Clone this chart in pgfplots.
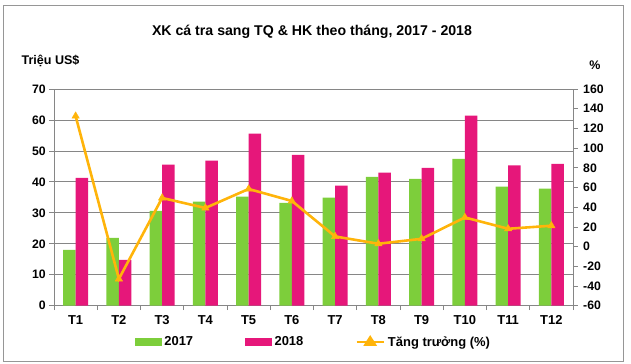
\documentclass[border=0pt]{standalone}
\usepackage{pgfplots}
\pgfplotsset{compat=1.18}
\usepackage{fontspec}
\setmainfont{Liberation Sans}
\definecolor{cgreen}{RGB}{125,206,59}
\definecolor{cpink}{RGB}{230,23,122}
\definecolor{corange}{RGB}{255,180,10}
\definecolor{cgrid}{RGB}{134,134,134}
\definecolor{cframe}{RGB}{150,150,150}

\pgfplotstableread{
m  y17   y18   g
1  18.0  41.3  132.5
2  21.9  14.8  -32.8
3  30.6  45.6  49.4
4  33.6  46.9  39.2
5  35.2  55.6  58.5
6  33.2  48.7  46.3
7  34.9  38.8  10.3
8  41.6  43.0  2.9
9  41.0  44.5  7.9
10 47.4  61.4  29.6
11 38.5  45.3  18.1
12 37.8  45.8  21.2
}\datatable

\begin{document}
\begin{tikzpicture}[x=1bp,y=1bp]
\path (0,0) rectangle (631,363);
\draw[cframe, line width=0.8bp] (3,2) rectangle (623,358);
\node[font=\bfseries\fontsize{14.2}{16}\selectfont] at (312,331) {XK cá tra sang TQ \& HK theo tháng, 2017 - 2018};
\node[font=\bfseries\fontsize{12.6}{14}\selectfont] at (50.5,302) {Triệu US\$};
\node[font=\bfseries\fontsize{12.5}{14}\selectfont] at (595,298) {\%};

\begin{axis}[
  at={(54bp,57.3bp)}, anchor=south west,
  scale only axis, width=519bp, height=216.7bp,
  xmin=0.5, xmax=12.5, ymin=0, ymax=70,
  axis x line*=bottom, axis y line*=left,
  axis line style={cgrid, line width=0.8bp, -},
  xtick={1,...,12},
  xticklabels={T1,T2,T3,T4,T5,T6,T7,T8,T9,T10,T11,T12},
  minor xtick={0.5,1.5,...,12.5},
  major x tick style={draw=none},
  minor x tick style={cgrid, line width=0.8bp},
  minor tick length=4.5bp,
  major tick length=4.7bp,
  tick align=outside,
  ytick={0,10,...,70},
  ytick style={cgrid, line width=0.8bp},
  ymajorgrids, grid style={cgrid, line width=0.8bp},
  /pgf/number format/assume math mode=true,
  yticklabel style={font=\bfseries\fontsize{12.3}{14}\selectfont},
  xticklabel style={font=\bfseries\fontsize{13}{15}\selectfont, yshift=-1.5bp},
]
\addplot[ybar, bar width=12.6bp, bar shift=-6.3bp, fill=cgreen, draw=none] table[x=m, y=y17] {\datatable};
\addplot[ybar, bar width=12.6bp, bar shift=6.3bp, fill=cpink, draw=none] table[x=m, y=y18] {\datatable};
\end{axis}

\begin{axis}[
  at={(54bp,57.3bp)}, anchor=south west,
  scale only axis, width=519bp, height=216.7bp,
  xmin=0.5, xmax=12.5, ymin=-60, ymax=160,
  axis x line=none, axis y line*=right,
  axis line style={cgrid, line width=0.8bp, -},
  ytick={-60,-40,...,160},
  ytick style={cgrid, line width=0.8bp},
  major tick length=4.7bp,
  tick align=outside,
  /pgf/number format/assume math mode=true,
  yticklabel style={font=\bfseries\fontsize{12.3}{14}\selectfont, xshift=2bp},
  legend columns=3,
  legend style={at={(0.5,-0.1675)}, anchor=center, draw=none, fill=none,
    font=\bfseries\fontsize{13}{15}\selectfont,
    inner sep=0pt,
    /tikz/every even column/.append style={column sep=50bp},
    /tikz/every odd column/.append style={column sep=1bp}},
]
\addlegendimage{legend image code/.code={\fill[cgreen] (0bp,-3.5bp) rectangle (26bp,3.5bp);}}
\addlegendentry{2017}
\addlegendimage{legend image code/.code={\fill[cpink] (0bp,-3.5bp) rectangle (26bp,3.5bp);}}
\addlegendentry{2018}
\addplot[corange, line width=2.6bp, mark=triangle*, mark size=4.2bp,
  mark options={solid, fill=corange, line width=0.5bp},
  legend image code/.code={\draw[corange, line width=2.6bp] (0bp,0bp) -- (27bp,0bp);
     \fill[corange] (13.5bp,4.5bp) -- (9bp,-2.5bp) -- (18bp,-2.5bp) -- cycle;}]
  table[x=m, y=g] {\datatable};
\addlegendentry{Tăng trưởng (\%)}
\end{axis}
\end{tikzpicture}
\end{document}
